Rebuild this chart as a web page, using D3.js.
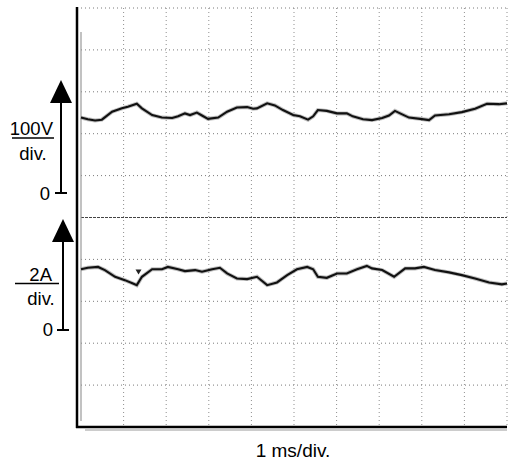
<html>
<head>
<style>
  body { margin: 0; background: #fff; }
  text { font-family: "Liberation Sans", Arial, sans-serif; fill: #000; }
</style>
</head>
<body>
<svg width="508" height="462" id="scope"></svg>

<script src="https://d3js.org/d3.v7.min.js"></script>
<script>
// time in ms (1 ms/div), voltage in V (100 V/div)
var timeV = [0, 0.16, 0.33, 0.49, 0.73, 0.96, 1.10, 1.31, 1.43, 1.67, 1.90, 2.14, 2.28, 2.44, 2.56, 2.72, 2.84, 2.98, 3.22,
             3.43, 3.66, 3.90, 4.04, 4.13, 4.37, 4.55, 4.74, 4.98, 5.14, 5.33, 5.45, 5.56, 5.77, 6.01, 6.24, 6.38, 6.62,
             6.83, 7.07, 7.23, 7.37, 7.49, 7.70, 7.96, 8.17, 8.31, 8.64, 8.94, 9.25, 9.53, 9.81, 10];
var voltage = [180, 176, 173, 175, 194, 202, 206, 213, 202, 186, 180, 179, 183, 190, 186, 192, 185, 177, 180,
               194, 204, 205, 201, 202, 214, 209, 198, 186, 183, 175, 183, 198, 196, 190, 190, 183, 176,
               174, 179, 185, 196, 190, 180, 177, 174, 185, 188, 193, 201, 213, 212, 214];

// time in ms, current in A (2 A/div)
var timeI = [0, 0.16, 0.40, 0.56, 0.80, 1.03, 1.22, 1.31, 1.43, 1.67, 1.90, 2.04, 2.28, 2.44, 2.68, 2.84, 3.08, 3.26,
             3.43, 3.66, 3.90, 4.13, 4.37, 4.60, 4.84, 5.07, 5.31, 5.45, 5.56, 5.77, 6.01, 6.24, 6.48, 6.71,
             6.83, 7.07, 7.35, 7.61, 7.84, 8.05, 8.31, 8.64, 8.94, 9.25, 9.58, 9.88, 10];
var current = [2.90, 2.97, 3.01, 2.86, 2.54, 2.38, 2.22, 2.14, 2.54, 2.90, 2.90, 3.01, 2.90, 2.81, 2.86, 2.78, 2.90, 2.97,
               2.70, 2.46, 2.43, 2.54, 2.14, 2.27, 2.62, 2.90, 3.01, 2.90, 2.54, 2.49, 2.70, 2.70, 2.90, 3.06,
               2.94, 2.86, 2.54, 2.94, 2.94, 3.01, 2.86, 2.75, 2.62, 2.46, 2.27, 2.18, 2.22];

var divisions = d3.range(0, 11);

var svg = d3.select("#scope");
svg.append("rect").attr("width", 508).attr("height", 462).attr("fill", "#fff");

var x = d3.scaleLinear().domain([0, 10]).range([81, 507]);
var yDiv = d3.scaleLinear().domain([0, 10]).range([427, 8]);
var divPx = yDiv(0) - yDiv(1);
var yV = d3.scaleLinear().domain([0, 100]).range([193, 193 - divPx]);
var yI = d3.scaleLinear().domain([0, 2]).range([330, 330 - divPx]);

// grid
svg.append("g").selectAll("line.v")
    .data(divisions.slice(1))
  .enter().append("line")
    .attr("x1", function(d) { return x(d); })
    .attr("x2", function(d) { return x(d); })
    .attr("y1", yDiv(10)).attr("y2", yDiv(0))
    .style("stroke", "#8f8f8f")
    .style("stroke-width", 1)
    .style("stroke-dasharray", "1,3");

svg.append("g").selectAll("line.h")
    .data(divisions.slice(1))
  .enter().append("line")
    .attr("x1", x(0)).attr("x2", x(10))
    .attr("y1", function(d) { return yDiv(d); })
    .attr("y2", function(d) { return yDiv(d); })
    .style("stroke", function(d) { return d == 5 ? "#444" : "#7a7a7a"; })
    .style("stroke-width", 1)
    .style("stroke-dasharray", function(d) { return d == 5 ? "3,1" : "1,3"; });

// screen border
svg.append("line").attr("x1", x(0)).attr("x2", x(0)).attr("y1", 32).attr("y2", 421)
    .style("stroke", "#999").style("stroke-width", 1.2);
svg.append("line").attr("x1", 85).attr("x2", x(10)).attr("y1", 430).attr("y2", 430)
    .style("stroke", "#999").style("stroke-width", 1.2);
svg.append("line").attr("x1", 77).attr("x2", 77).attr("y1", 7).attr("y2", 428)
    .style("stroke", "#000").style("stroke-width", 2.5);
svg.append("line").attr("x1", 76).attr("x2", x(10)).attr("y1", 427).attr("y2", 427)
    .style("stroke", "#000").style("stroke-width", 2.5);

// traces
function trace(tt, vals, y) {
    var pts = tt.map(function(t, i) { return [x(t), y(vals[i])]; });
    var line = d3.line().curve(d3.curveLinear);
    svg.append("path").attr("d", line(pts))
        .style("fill", "none").style("stroke", "#888").style("stroke-width", 4).style("opacity", 0.55);
    svg.append("path").attr("d", line(pts))
        .style("fill", "none").style("stroke", "#111").style("stroke-width", 2.1);
}
trace(timeV, voltage, yV);
trace(timeI, current, yI);

// small trigger marker on the current trace
svg.append("path")
    .attr("d", "M" + (x(1.35) - 3) + "," + (yI(2.75) - 3) + "l6,0l-3,5z")
    .style("fill", "#222");

// scale arrows
function scaleArrow(cx, tipY, baseY, zeroY, halfW) {
    svg.append("path")
        .attr("d", "M" + cx + "," + tipY + "L" + (cx + halfW) + "," + baseY + "L" + (cx - halfW) + "," + baseY + "Z")
        .style("fill", "#000");
    svg.append("line").attr("x1", cx).attr("x2", cx).attr("y1", baseY).attr("y2", zeroY)
        .style("stroke", "#000").style("stroke-width", 2);
    svg.append("line").attr("x1", cx - 6).attr("x2", cx + 6).attr("y1", zeroY).attr("y2", zeroY)
        .style("stroke", "#000").style("stroke-width", 2);
}
scaleArrow(61, 80, 103, yV(0), 11);
scaleArrow(63, 219, 242, yI(0), 11);

// labels
svg.append("text").attr("x", 53).attr("y", 135).attr("text-anchor", "end").style("font-size", "18.5px").text("100V");
svg.append("line").attr("x1", 12).attr("x2", 54).attr("y1", 138).attr("y2", 138).style("stroke", "#000").style("stroke-width", 1.5);
svg.append("text").attr("x", 33).attr("y", 160).attr("text-anchor", "middle").style("font-size", "18.5px").text("div.");
svg.append("text").attr("x", 50).attr("y", yV(0) + 6.5).attr("text-anchor", "end").style("font-size", "18.5px").text("0");

svg.append("text").attr("x", 52).attr("y", 281).attr("text-anchor", "end").style("font-size", "18.5px").text("2A");
svg.append("line").attr("x1", 15).attr("x2", 59).attr("y1", 283.5).attr("y2", 283.5).style("stroke", "#000").style("stroke-width", 1.5);
svg.append("text").attr("x", 41).attr("y", 305).attr("text-anchor", "middle").style("font-size", "18.5px").text("div.");
svg.append("text").attr("x", 53).attr("y", yI(0) + 6).attr("text-anchor", "end").style("font-size", "18.5px").text("0");

svg.append("text").attr("x", 293).attr("y", 457).attr("text-anchor", "middle").style("font-size", "19px").text("1 ms/div.");
</script>
</body>
</html>
